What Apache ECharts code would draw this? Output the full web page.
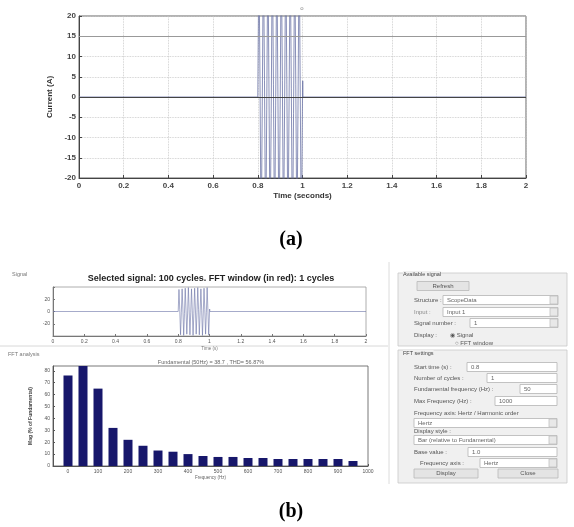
<!DOCTYPE html>
<html><head><meta charset="utf-8">
<script src="https://cdn.jsdelivr.net/npm/echarts@6/dist/echarts.min.js"></script>
<style>html,body{margin:0;padding:0;background:#fff}#c{width:574px;height:527px}</style>
</head><body><div id="c"></div>
<script>
// ---- data ----
const sigT = [0, 0.8, 0.805, 0.81, 0.815, 0.82, 0.825, 0.83, 0.835, 0.84, 0.845, 0.85, 0.855, 0.86, 0.865, 0.87, 0.875, 0.88, 0.885, 0.89, 0.895, 0.9, 0.905, 0.91, 0.915, 0.92, 0.925, 0.93, 0.935, 0.94, 0.945, 0.95, 0.955, 0.96, 0.965, 0.97, 0.975, 0.98, 0.985, 0.99, 0.995, 1.0, 1.001, 1.002, 2.0];
const sigI = [0, 0, 36, 3, -38, -2, 37, 4, -39, -3, 38, 2, -37, -4, 39, 3, -38, -2, 37, 1, -39, -3, 38, 4, -37, -2, 39, 3, -38, -1, 37, 2, -39, -4, 38, 3, -37, -2, 39, 1, -38, 0, 4, 0, 0];
const timeTicks = [0, 0.2, 0.4, 0.6, 0.8, 1, 1.2, 1.4, 1.6, 1.8, 2];
const currentTicks = [-20, -15, -10, -5, 0, 5, 10, 15, 20];
const signalTicks = [-20, 0, 20];
const freqs = [0, 50, 100, 150, 200, 250, 300, 350, 400, 450, 500, 550, 600, 650, 700, 750, 800, 850, 900, 950];
const mags = [76, 100, 65, 32, 22, 17, 13, 12, 10, 8.4, 7.6, 7.6, 6.7, 6.7, 5.9, 5.9, 5.9, 5.9, 5.9, 4.2];
const freqTicks = [0, 100, 200, 300, 400, 500, 600, 700, 800, 900, 1000];
const magTicks = [0, 10, 20, 30, 40, 50, 60, 70, 80];

const sig = sigT.map((t, i) => [t, sigI[i]]);
const bars = freqs.map((f, i) => [f, mags[i]]);
const fmt = v => String(+(+v).toFixed(2));

const chart = echarts.init(document.getElementById('c'), null, {renderer: 'canvas'});

// GUI panel helpers
const G = [];
function txt(x, y, s, o) {
  G.push(Object.assign({type: 'text', x: x, y: y, style: Object.assign({text: s, fontSize: 6, fontFamily: 'Liberation Sans', fill: '#555', textVerticalAlign: 'middle'}, o || {})}, {z: 10}));
}
function rect(x, y, w, h, fill, stroke) {
  G.push({type: 'rect', shape: {x: x, y: y, width: w, height: h}, style: {fill: fill, stroke: stroke, lineWidth: 0.8}, z: 5});
}
function box(x, y, x2, s, drop) {
  rect(x, y - 4.5, x2 - x, 9, '#ffffff', '#b4b4b4');
  if (s) txt(x + 4, y, s, {fill: '#666'});
  if (drop) rect(x2 - 8, y - 4, 7.5, 8, '#e8e8e8', '#c0c0c0');
}
// separators
G.push({type: 'line', shape: {x1: 0, y1: 346, x2: 388, y2: 346}, style: {stroke: '#d8d8d8', lineWidth: 1}});
G.push({type: 'line', shape: {x1: 389, y1: 262, x2: 389, y2: 484}, style: {stroke: '#dcdcdc', lineWidth: 1}});
txt(12, 274, 'Signal', {fontSize: 5.5, fill: '#777'});
txt(8, 354, 'FFT analysis', {fontSize: 5.5, fill: '#777'});
// panel 1
rect(398, 273, 169, 73, '#f0f0f0', '#c8c8c8');
txt(403, 274, 'Available signal', {fontSize: 5.5, fill: '#444', backgroundColor: '#f0f0f0'});
rect(417, 281.5, 52, 9, '#e4e4e4', '#b8b8b8');
txt(443, 286, 'Refresh', {textAlign: 'center', fill: '#555'});
txt(414, 300, 'Structure :');
box(443, 300, 558, 'ScopeData', true);
txt(414, 312, 'Input :', {fill: '#888'});
box(443, 312, 558, 'Input 1', true);
txt(414, 323, 'Signal number :');
box(470, 323, 558, '1', true);
txt(414, 335, 'Display :');
txt(450, 335, '\u25c9 Signal');
txt(455, 343, '\u25cb FFT window');
// panel 2
rect(398, 350, 169, 133, '#f0f0f0', '#c8c8c8');
txt(403, 353, 'FFT settings', {fontSize: 5.5, fill: '#444', backgroundColor: '#f0f0f0'});
txt(414, 367, 'Start time (s) :');
box(467, 367, 557, '0.8');
txt(414, 378, 'Number of cycles :');
box(487, 378, 557, '1');
txt(414, 389, 'Fundamental frequency (Hz) :');
box(520, 389, 557, '50');
txt(414, 401, 'Max Frequency (Hz) :');
box(495, 401, 557, '1000');
txt(414, 413, 'Frequency axis: Hertz / Harmonic order');
box(414, 423, 557, 'Hertz', true);
txt(414, 431, 'Display style :');
box(414, 440, 557, 'Bar (relative to Fundamental)', true);
txt(414, 452, 'Base value :');
box(468, 452, 557, '1.0');
txt(420, 463, 'Frequency axis :');
box(480, 463, 557, 'Hertz', true);
rect(414, 469, 64, 9, '#e4e4e4', '#b8b8b8');
txt(446, 473.5, 'Display', {textAlign: 'center'});
rect(498, 469, 60, 9, '#e4e4e4', '#b8b8b8');
txt(528, 473.5, 'Close', {textAlign: 'center'});
// figure titles
txt(211, 279, 'Selected signal: 100 cycles. FFT window (in red): 1 cycles', {fontSize: 9, fontWeight: 'bold', fill: '#222', textAlign: 'center'});
txt(211, 362, 'Fundamental (50Hz) = 38.7 , THD= 56.87%', {fontSize: 5.5, fill: '#666', textAlign: 'center'});
txt(291, 240, '(a)', {fontSize: 20, fontWeight: 'bold', fontFamily: 'Liberation Serif', fill: '#000', textAlign: 'center'});
txt(291, 512, '(b)', {fontSize: 20, fontWeight: 'bold', fontFamily: 'Liberation Serif', fill: '#000', textAlign: 'center'});
txt(302, 8, 'o', {fontSize: 6, fill: '#888', textAlign: 'center'});

const small = {fontSize: 5, color: '#555', fontFamily: 'Liberation Sans', margin: 3};
const dotted = {show: true, lineStyle: {type: 'dotted', color: '#c4c4c4', width: 0.8}};

chart.setOption({
  animation: false,
  backgroundColor: '#fff',
  graphic: G,
  grid: [
    {left: 79, top: 16, width: 447, height: 162, show: true, borderColor: '#666', borderWidth: 1},
    {left: 53, top: 287, width: 313, height: 49, show: true, borderColor: '#999', borderWidth: 0.8},
    {left: 53, top: 366, width: 315, height: 100, show: true, borderColor: '#555', borderWidth: 0.8}
  ],
  xAxis: [
    {gridIndex: 0, type: 'value', min: 0, max: 2, interval: 0.2,
     axisLine: {onZero: false, lineStyle: {color: '#444'}}, axisTick: {inside: true, length: 3, lineStyle: {color: '#444'}},
     axisLabel: {formatter: fmt, fontSize: 8, fontWeight: 'bold', color: '#444', fontFamily: 'Liberation Sans', margin: 4},
     splitLine: dotted,
     name: 'Time (seconds)', nameLocation: 'middle', nameGap: 14,
     nameTextStyle: {fontSize: 8, fontWeight: 'bold', color: '#333', fontFamily: 'Liberation Sans'}},
    {gridIndex: 1, type: 'value', min: 0, max: 2, interval: 0.2,
     axisLine: {onZero: false, lineStyle: {color: '#777'}}, axisTick: {inside: true, length: 2},
     axisLabel: Object.assign({formatter: fmt}, small), splitLine: {show: false},
     name: 'Time (s)', nameLocation: 'middle', nameGap: 10, nameTextStyle: {fontSize: 4.5, color: '#777'}},
    {gridIndex: 2, type: 'value', min: -50, max: 1000,
     axisLine: {onZero: false, lineStyle: {color: '#555'}},
     axisTick: {inside: true, length: 2, customValues: freqTicks},
     axisLabel: Object.assign({customValues: freqTicks, formatter: fmt}, small), splitLine: {show: false},
     name: 'Frequency (Hz)', nameLocation: 'middle', nameGap: 9, nameTextStyle: {fontSize: 4.5, color: '#666'}}
  ],
  yAxis: [
    {gridIndex: 0, type: 'value', min: -20, max: 20, interval: 5,
     axisLine: {show: true, onZero: false, lineStyle: {color: '#444'}}, axisTick: {show: true, inside: true, length: 3, lineStyle: {color: '#444'}},
     axisLabel: {formatter: fmt, fontSize: 8, fontWeight: 'bold', color: '#444', fontFamily: 'Liberation Sans', margin: 3},
     splitLine: dotted,
     name: 'Current (A)', nameLocation: 'middle', nameGap: 20,
     nameTextStyle: {fontSize: 8, fontWeight: 'bold', color: '#333', fontFamily: 'Liberation Sans'}},
    {gridIndex: 1, type: 'value', min: -40, max: 40, interval: 20,
     axisLine: {show: true, onZero: false, lineStyle: {color: '#777'}}, axisTick: {show: true, inside: true, length: 2},
     axisLabel: Object.assign({formatter: v => (v === 40 || v === -40) ? '' : fmt(v)}, small), splitLine: {show: false}},
    {gridIndex: 2, type: 'value', min: 0, max: 84,
     axisLine: {show: true, onZero: false, lineStyle: {color: '#555'}},
     axisTick: {show: true, inside: true, length: 2, customValues: magTicks},
     axisLabel: Object.assign({customValues: magTicks, formatter: fmt}, small), splitLine: {show: false},
     name: 'Mag (% of Fundamental)', nameLocation: 'middle', nameGap: 13,
     nameTextStyle: {fontSize: 5, fontWeight: 'bold', color: '#444'}}
  ],
  series: [
    {type: 'line', xAxisIndex: 0, yAxisIndex: 0, data: sig, showSymbol: false, clip: true,
     lineStyle: {color: '#6a72a6', width: 0.8},
     markLine: {silent: true, symbol: 'none', label: {show: false},
       data: [{yAxis: 0, lineStyle: {color: '#444', width: 1, type: 'solid'}},
              {yAxis: 15, lineStyle: {color: '#999', width: 1, type: 'solid'}}]}},
    {type: 'line', xAxisIndex: 1, yAxisIndex: 1, data: sig, showSymbol: false, clip: true,
     lineStyle: {color: '#6a72a6', width: 0.6}},
    {type: 'bar', xAxisIndex: 2, yAxisIndex: 2, data: bars, barWidth: 9, clip: true,
     itemStyle: {color: '#17176b'}}
  ]
});
</script>
</body></html>
